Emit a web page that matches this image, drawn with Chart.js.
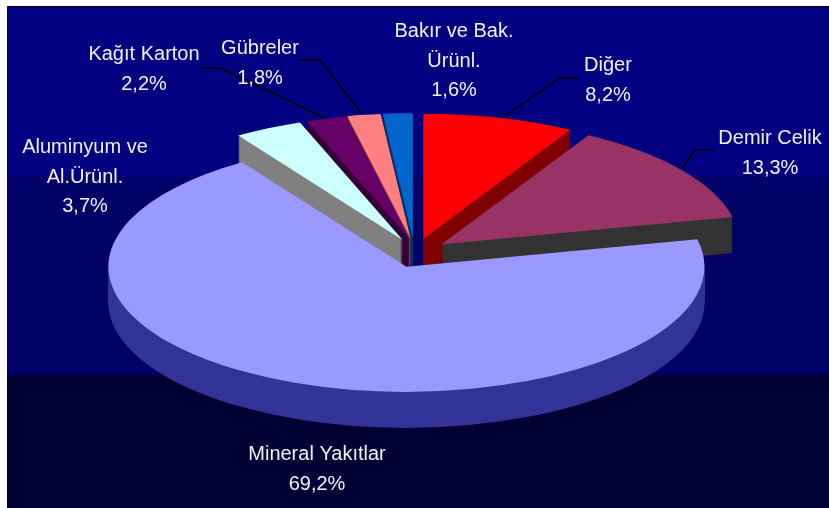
<!DOCTYPE html>
<html>
<head>
<meta charset="utf-8">
<title>Pie</title>
<script src="https://cdn.jsdelivr.net/npm/chart.js@4"></script>
<style>
    html, body { margin: 0; padding: 0; background: #ffffff; overflow: hidden; }
    canvas { display: block; }
</style>
</head>
<body>
<canvas id="pieChart" width="829" height="508"></canvas>
<script>
const categories = [['Diğer'], ['Demir Celik'], ['Mineral Yakıtlar'], ['Aluminyum ve', 'Al.Ürünl.'], ['Kağıt Karton'], ['Gübreler'], ['Bakır ve Bak.', 'Ürünl.']];
const shares = [8.2, 13.3, 69.2, 3.7, 2.2, 1.8, 1.6];

const topColors = ['#ff0000', '#993366', '#9999ff', '#ccffff', '#660066', '#ff8080', '#0066cc'];
const sideColors = ['#800000', '#333333', '#333399', '#808080', '#330033', '#804040', '#003366'];

// back slices first, the big one goes on top of everything
const drawOrder = [6, 5, 4, 3, 0, 1, 2];
const explode = 35;
const explodeNudgeX = [0, -1, 5, 4, 5, 1.5, 0];
const squash = 0.42;
const pieCenterY = 253;
const pieDepth = 36;

const bands = [[7, '#000080'], [177, '#000066'], [375, '#000033']];
const labelSpots = [[608, 71], [770, 144], [317, 460], [85, 153], [144, 60], [260, 54], [454, 37]];
const leaders = [
    [[580, 78], [560, 78], [503, 117]],
    [[715, 150], [695, 150], [682, 168]],
    [[200, 68], [220, 68], [325, 118]],
    [[298, 60], [320, 60], [361, 113]]
];

function drawSlice(ctx, arc, index, color, shiftY) {
    const saved = arc.options;
    const mid = (arc.startAngle + arc.endAngle) / 2;
    arc.options = Object.assign({}, saved, { backgroundColor: color });
    ctx.save();
    ctx.translate(explodeNudgeX[index], pieCenterY + shiftY);
    ctx.scale(1, squash);
    // own explode: the offset option makes small slices a different radius
    ctx.translate(Math.cos(mid) * explode, Math.sin(mid) * explode - arc.y);
    arc.draw(ctx);
    ctx.restore();
    arc.options = saved;
}

const pie3d = {
    id: 'pie3d',
    beforeDraw(chart) {
        const ctx = chart.ctx;
        ctx.fillStyle = '#ffffff';
        ctx.fillRect(0, 0, chart.width, chart.height);
        ctx.fillStyle = '#000000';
        ctx.fillRect(7, 6, chart.width - 7, 1);
        bands.forEach((band, i) => {
            const next = i + 1 < bands.length ? bands[i + 1][0] : chart.height;
            ctx.fillStyle = band[1];
            ctx.fillRect(7, band[0], chart.width - 7, next - band[0]);
        });
    },
    beforeDatasetsDraw(chart) {
        const ctx = chart.ctx;
        const arcs = chart.getDatasetMeta(0).data;
        drawOrder.forEach(i => {
            for (let s = pieDepth; s > 0; s--) {
                drawSlice(ctx, arcs[i], i, sideColors[i], s);
            }
            drawSlice(ctx, arcs[i], i, topColors[i], 0);
        });
        return false;
    },
    afterDraw(chart) {
        const ctx = chart.ctx;
        ctx.strokeStyle = '#000000';
        ctx.lineWidth = 1.5;
        leaders.forEach(line => {
            ctx.beginPath();
            line.forEach((p, i) => i ? ctx.lineTo(p[0], p[1]) : ctx.moveTo(p[0], p[1]));
            ctx.stroke();
        });

        ctx.fillStyle = '#f0f0f8';
        ctx.font = '20px "Liberation Sans"';
        ctx.textAlign = 'center';
        categories.forEach((lines, i) => {
            const rows = lines.concat(shares[i].toFixed(1).replace('.', ',') + '%');
            rows.forEach((row, r) => {
                ctx.fillText(row, labelSpots[i][0], labelSpots[i][1] + r * 29.5);
            });
        });
    }
};

new Chart(document.getElementById('pieChart'), {
    type: 'pie',
    plugins: [pie3d],
    data: {
        labels: categories.map(lines => lines.join(' ')),
        datasets: [{
            data: shares,
            backgroundColor: topColors,
            borderWidth: 0
        }]
    },
    options: {
        responsive: false,
        animation: false,
        radius: 298,
        plugins: {
            legend: { display: false },
            tooltip: { enabled: false }
        }
    }
});
</script>
</body>
</html>
